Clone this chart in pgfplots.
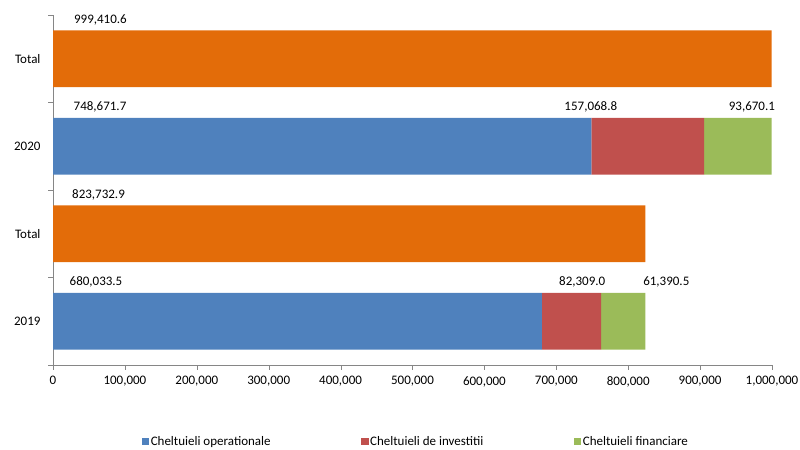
\documentclass[border=0pt]{standalone}
\usepackage{fontspec}
\setmainfont{Carlito}
\usepackage{pgfplots}
\pgfplotsset{compat=1.18}
\definecolor{cblue}{HTML}{4F81BD}
\definecolor{cred}{HTML}{C0504D}
\definecolor{cgreen}{HTML}{9BBB59}
\definecolor{corange}{HTML}{E36C09}
\definecolor{axgray}{HTML}{868686}
\newcommand{\lbl}{\fontsize{13bp}{15bp}\selectfont}
\begin{document}
\begin{tikzpicture}
\useasboundingbox (0,0) rectangle (800bp,450bp);
\begin{axis}[
  at={(53bp,85bp)}, anchor=south west,
  scale only axis, width=719bp, height=350bp,
  xbar stacked, bar width=0.65,
  xmin=0, xmax=1000000, ymin=-0.5, ymax=3.5,
  clip=false,
  axis x line*=bottom, axis y line*=left,
  axis line style={axgray},
  scaled x ticks=false,
  xtick={0,100000,200000,300000,400000,500000,600000,700000,800000,900000,1000000},
  xticklabels={0,{100,000},{200,000},{300,000},{400,000},{500,000},{600,000},{700,000},{800,000},{900,000},{1,000,000}},
  ytick={-0.5,0.5,1.5,2.5,3.5}, yticklabels={,,,,},
  extra y ticks={0,1,2,3},
  extra y tick labels={2019,Total,2020,Total},
  extra y tick style={major tick length=0pt},
  tick style={axgray},
  major tick length=5bp, tick align=outside,
  tick label style={font=\lbl},
  xticklabel style={yshift=-3bp},
  yticklabel style={xshift=-9bp},
  legend style={at={(0.5043,-0.2186)}, anchor=center, draw=none, font=\lbl,
    legend columns=3, /tikz/every even column/.append style={column sep=89bp},
    nodes={inner xsep=1.5bp}},
  every axis plot/.append style={legend image code/.code={\fill[#1] (0bp,-3.75bp) rectangle (7.5bp,3.75bp);}},
]
\addplot[fill=cblue, draw=none] coordinates {(680033.5,0) (0,1) (748671.7,2) (0,3)};
\addlegendentry{Cheltuieli operationale}
\addplot[fill=cred, draw=none] coordinates {(82309.0,0) (0,1) (157068.8,2) (0,3)};
\addlegendentry{Cheltuieli de investitii}
\addplot[fill=cgreen, draw=none] coordinates {(61390.5,0) (0,1) (93670.1,2) (0,3)};
\addlegendentry{Cheltuieli financiare}
\addplot[fill=corange, draw=none, forget plot] coordinates {(0,0) (823732.9,1) (0,2) (999410.6,3)};
\node[font=\lbl] at (axis cs:66000,3.445) {999,410.6};
\node[font=\lbl] at (axis cs:65400,2.445) {748,671.7};
\node[font=\lbl] at (axis cs:748000,2.445) {157,068.8};
\node[font=\lbl] at (axis cs:972000,2.445) {93,670.1};
\node[font=\lbl] at (axis cs:63300,1.445) {823,732.9};
\node[font=\lbl] at (axis cs:59800,0.445) {680,033.5};
\node[font=\lbl] at (axis cs:736000,0.445) {82,309.0};
\node[font=\lbl] at (axis cs:853000,0.445) {61,390.5};
\end{axis}
\end{tikzpicture}
\end{document}
